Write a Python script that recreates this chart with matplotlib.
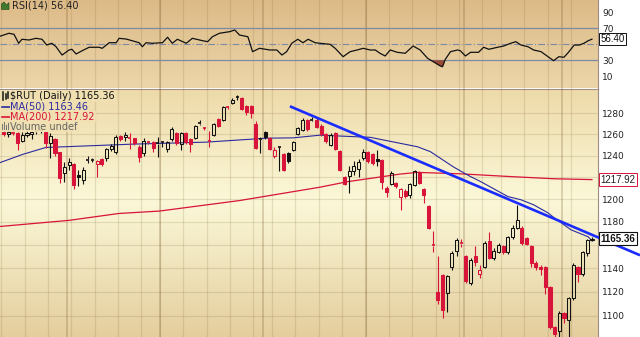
import numpy as np
import pandas as pd
import matplotlib
matplotlib.use('Agg')
import matplotlib.pyplot as plt
from matplotlib.colors import LinearSegmentedColormap
from matplotlib.patches import Rectangle, Polygon
from matplotlib.lines import Line2D
from matplotlib.ticker import NullLocator
import matplotlib.transforms as mtransforms

# ---- data ($RUT daily, 13 Apr - 9 Oct 2015) ----
holidays = ['2015-05-25', '2015-07-03', '2015-09-07']
dates = pd.bdate_range('2015-04-13', '2015-10-09')
dates = dates[~dates.isin(pd.to_datetime(holidays))]

opens = [1262, 1260, 1262, 1261, 1254, 1259, 1260, 1262, 1263, 1262,
         1252, 1255, 1243, 1224, 1231, 1232, 1222, 1218, 1236, 1235.5,
         1232, 1237, 1238, 1246, 1243, 1258, 1257, 1257, 1256, 1248,
         1242, 1253, 1253, 1251, 1253.5, 1246, 1255, 1261, 1251, 1261,
         1255, 1256, 1270, 1266, 1254, 1259, 1274, 1273, 1286, 1290,
         1295, 1294, 1287, 1287, 1270, 1255, 1262, 1256, 1239.5, 1248,
         1241, 1242, 1245, 1260, 1264, 1273, 1273, 1273, 1268, 1260,
         1250, 1261, 1244, 1220, 1221, 1226, 1228, 1238, 1243, 1241,
         1237, 1236, 1210, 1214, 1215, 1202, 1208, 1204, 1213, 1225,
         1209, 1194, 1160, 1120, 1134, 1119, 1141, 1155, 1162, 1150,
         1127, 1150, 1135, 1141, 1163, 1149, 1154, 1159, 1154, 1167,
         1175, 1175, 1166, 1159, 1144, 1141, 1141, 1124, 1091, 1088,
         1102, 1097, 1115, 1141, 1135, 1153, 1164]
highs = [1266, 1264, 1265, 1262, 1262, 1263, 1263, 1264, 1266, 1263,
         1261, 1256, 1243, 1234, 1238, 1233, 1227, 1229, 1240, 1238,
         1236, 1238, 1247, 1251, 1259, 1259, 1262, 1261, 1256, 1250,
         1256, 1254, 1254, 1257, 1254, 1254, 1267, 1262, 1262, 1262,
         1256, 1269, 1273, 1267, 1263, 1271, 1275, 1287, 1287, 1294,
         1297, 1295, 1288, 1288, 1272, 1257, 1263, 1257, 1248, 1249,
         1242, 1243, 1254, 1267, 1275, 1274, 1276, 1275, 1270, 1261,
         1261, 1262, 1245, 1221, 1230, 1235, 1237, 1246, 1244, 1242,
         1245, 1237, 1212, 1226, 1216, 1210, 1209, 1215, 1227, 1226,
         1210, 1195, 1172, 1150, 1135, 1134, 1155, 1166, 1165, 1151,
         1149, 1159, 1143, 1163, 1171, 1157, 1162, 1160, 1168, 1177,
         1195, 1176, 1167, 1160, 1146, 1143, 1142, 1125, 1092, 1104,
         1103, 1116, 1144, 1142, 1155, 1165, 1167]
lows = [1258, 1257, 1259, 1245, 1253, 1257, 1255, 1260, 1261, 1247,
        1238, 1240, 1215, 1216, 1227, 1209, 1212, 1214, 1233, 1234,
        1220, 1230, 1235, 1244, 1241, 1254, 1254, 1246, 1250, 1234,
        1240, 1251, 1243, 1239, 1248, 1243, 1254, 1250, 1245, 1251,
        1243, 1255, 1269, 1264, 1248, 1258, 1267, 1272, 1284, 1289,
        1293, 1283, 1278, 1275, 1246, 1242, 1255, 1245, 1238, 1226,
        1226, 1233, 1244, 1259, 1263, 1263, 1272, 1266, 1258, 1252,
        1249, 1245, 1226, 1213, 1206, 1222, 1220, 1236, 1233, 1231,
        1230, 1209, 1202, 1213, 1210, 1191, 1201, 1201, 1212, 1214,
        1197, 1174, 1154, 1110, 1098, 1103, 1138, 1150, 1158, 1127,
        1126, 1142, 1132, 1140, 1148, 1147, 1153, 1152, 1152, 1165,
        1174, 1160, 1160, 1141, 1138, 1134, 1118, 1089, 1080, 1083,
        1094, 1075, 1113, 1128, 1133, 1150, 1163]
closes = [1260, 1262, 1261, 1252, 1259, 1261, 1262, 1263, 1264, 1252,
          1258, 1242, 1219, 1229, 1234, 1213, 1220, 1227, 1236.5, 1236.5,
          1235, 1232, 1246, 1249, 1257, 1255, 1259, 1256, 1252, 1239,
          1254, 1252, 1247, 1252, 1252.5, 1253, 1265, 1252, 1261, 1253,
          1251, 1268, 1271, 1265.5, 1253, 1270, 1268, 1286, 1285.5, 1293,
          1295.5, 1284, 1281, 1280, 1247, 1256, 1257, 1246, 1245.5, 1248.5,
          1227, 1235, 1253, 1266, 1273, 1265, 1274, 1267, 1260, 1254,
          1259, 1246, 1227, 1214, 1226, 1230, 1234, 1243, 1235, 1233,
          1235, 1216, 1207, 1224, 1212, 1209, 1203, 1214, 1226, 1215,
          1204, 1175, 1159, 1113, 1105, 1133, 1153, 1164, 1161, 1129,
          1147, 1145, 1138, 1162, 1149, 1155, 1160, 1154, 1167, 1175,
          1182, 1162, 1161, 1144, 1141, 1139, 1124, 1091, 1085, 1102,
          1098, 1115, 1143, 1135, 1154, 1164, 1165.36]
prev_close = 1264   # close of the day before the first candle

ma50_days = [-1.1, 4, 9, 27.5, 43.4, 56.3, 62, 67.7, 78.5, 88.6, 91.4, 96.3,
             99.4, 102.2, 108, 110.8, 113.5, 116.6, 117.8, 121.5, 125.2, 126]
ma50_vals = [1233, 1241, 1247.5, 1250.6, 1252.5, 1256.2, 1256.5, 1259, 1257,
             1248.2, 1243.6, 1229.6, 1222, 1216, 1202.6, 1199.7, 1195.2, 1188,
             1184, 1173.1, 1167, 1163.46]

ma200_days = [-1.1, 14, 24.7, 33.3, 50.5, 67.7, 73.6, 85, 88.6, 97.8, 108, 117.8, 126]
ma200_vals = [1175.9, 1181.4, 1187.5, 1189.6, 1199, 1211, 1216, 1223, 1224.5,
              1223.2, 1220.8, 1218.7, 1217.92]

rsi_days = [-1.1, 1.1, 2.2, 3.2, 3.9, 5.4, 6.9, 8.2, 9.2, 10.3, 11.2, 12.5, 14.0,
            14.6, 15.5, 16.8, 18.3, 20.4, 21.1, 22.6, 24.1, 24.7, 26.2, 27.5,
            29.0, 29.7, 30.5, 31.8, 34.0, 35.1, 36.1, 37.2, 39.1, 40.4, 42.6,
            43.7, 44.7, 46.2, 48.4, 49.5, 50.5, 52.3, 53.3, 54.8, 57.0, 58.5,
            59.6, 60.6, 61.7, 63.0, 64.1, 65.2, 66.7, 67.7, 69.9, 71.0, 72.7,
            74.2, 75.7, 77.0, 78.5, 79.6, 80.6, 81.7, 82.8, 84.3, 86.0, 87.7,
            89.2, 90.8, 92.0, 93.5, 94.0, 94.6, 95.7, 97.2, 97.8, 98.9, 100.0,
            101.7, 102.8, 103.9, 105.8, 107.1, 108.6, 109.7, 110.8, 112.3,
            113.5, 115.1, 116.6, 117.8, 118.9, 120.0, 120.9, 122.2, 123.3,
            124.3, 125.2, 126]
rsi_vals = [59.5, 63.8, 62.5, 51.3, 56.3, 55.4, 57.5, 56.3, 49.1, 51.3, 47, 36.6,
            42.9, 43.8, 37.9, 42, 46.3, 46.3, 45, 52, 52, 57.5, 56.6, 54.5, 52,
            47, 52, 51.3, 52, 58.8, 51.3, 56.3, 51.3, 57.5, 54.5, 53.3, 59.5,
            63.8, 65.8, 67.9, 61.6, 59.5, 40.8, 45, 42.9, 42.9, 36.6, 40.8,
            51.3, 56.3, 52, 56.3, 52, 51.3, 50, 45, 34.5, 40.8, 42.9, 45, 42.9,
            42.9, 38.8, 35.4, 42.9, 40, 38.8, 47.9, 42.9, 32.5, 28.3, 22.9, 22,
            31.3, 40.8, 42.9, 42, 35.4, 40, 40, 46.3, 43.8, 46.3, 47.9, 51.3,
            53.3, 49.1, 47, 42.9, 40.8, 34.5, 29.5, 34.5, 33.8, 39.5, 49.1, 49.1,
            51.3, 54.5, 56.4]

trend_days = [61.3, 136.3]
trend_prices = [1286.5, 1151.0]

price_ticks = [1100, 1120, 1140, 1160, 1180, 1200, 1220, 1240, 1260, 1280]
rsi_ticks = [10, 30, 50, 70, 90]
last_close = 1165.36
last_ma50 = 1163.46
last_ma200 = 1217.92
last_rsi = 56.40

# ---- colours ----
RED = '#d8143a'
BLACK = '#111111'
NAVY = '#2b2ba0'
TREND = '#1a2cff'
GRID = (0.50, 0.38, 0.18, 0.17)
MONTH = (0.45, 0.33, 0.15, 0.30)
BOXFONT = 'Liberation Sans'

W, H = 640, 337
fig = plt.figure(figsize=(W / 100, H / 100), dpi=100, facecolor='white')

right_px = 598
split_px = 88.5
rsi_rect = [0, 1 - split_px / H, right_px / W, split_px / H]
price_rect = [0, 0, right_px / W, (H - split_px) / H]


def gradient(rect, stops):
    bg = fig.add_axes(rect, zorder=0)
    cmap = LinearSegmentedColormap.from_list('bg', stops)
    bg.imshow(np.linspace(0, 1, 256).reshape(-1, 1), cmap=cmap, aspect='auto',
              origin='lower', extent=[0, 1, 0, 1], interpolation='bilinear')
    bg.set_axis_off()


gradient(rsi_rect, [(0, '#ecd6a9'), (1, '#dcba87')])
gradient(price_rect, [(0, '#e4ce9e'), (0.55, '#fbf8d8'), (1, '#eedaa9')])

ax_rsi = fig.add_axes(rsi_rect, zorder=1)
ax = fig.add_axes(price_rect, zorder=1)
n = len(closes)
xlim = (-0.8, 127.3)

# calendar grid: week and month starts
week_starts = [0] + [i for i in range(1, n) if dates[i].weekday() < dates[i - 1].weekday()]
month_starts = [i for i in range(1, n) if dates[i].month != dates[i - 1].month]

for a in (ax_rsi, ax):
    a.set_facecolor('none')
    a.set_xlim(*xlim)
    for w in week_starts:
        a.axvline(w - 0.5, color=GRID, lw=0.9, zorder=0.5)
    for m in month_starts:
        a.axvline(m - 0.5, color=MONTH, lw=1.1, zorder=0.5)
    a.xaxis.set_major_locator(NullLocator())
    a.xaxis.set_minor_locator(NullLocator())
    for s in ('left', 'top', 'bottom'):
        a.spines[s].set_visible(False)
    a.spines['right'].set_color('#a08c80')
    a.spines['right'].set_linewidth(0.8)
    a.yaxis.tick_right()
    a.tick_params(axis='y', which='both', length=0, pad=3, labelsize=6.5, labelcolor='#222222')
ax_rsi.spines['bottom'].set_visible(True)
ax_rsi.spines['bottom'].set_color('#a08c80')
ax_rsi.spines['bottom'].set_linewidth(0.8)

# ---- RSI panel ----
ax_rsi.set_ylim(-5.25, 105.4)
ax_rsi.set_yticks(rsi_ticks)
# the 50 label sits under the last-value box
ax_rsi.set_yticklabels(['' if t == 50 else str(t) for t in rsi_ticks])
ax_rsi.axhline(70, color='#7d8aa6', lw=0.9, zorder=1)
ax_rsi.axhline(30, color='#7d8aa6', lw=0.9, zorder=1)
ax_rsi.axhline(50, color='#7d8aa6', lw=0.8, ls='-.', dashes=(6, 2, 1, 2), zorder=1)
rsi_days_a = np.array(rsi_days)
rsi_vals_a = np.array(rsi_vals)
ax_rsi.fill_between(rsi_days_a, rsi_vals_a, 30, where=rsi_vals_a < 30,
                    interpolate=True, color='#9a4a35', lw=0, zorder=1.5)
ax_rsi.plot(rsi_days_a, rsi_vals_a, color='#111111', lw=0.9, zorder=2)
ax_rsi.annotate(f'{last_rsi:.2f}', xy=(1, last_rsi),
                xycoords=mtransforms.blended_transform_factory(ax_rsi.transAxes, ax_rsi.transData),
                xytext=(1.8, 0), textcoords='offset points', ha='left', va='center',
                fontsize=7, family=BOXFONT, color='#111111', zorder=6, annotation_clip=False,
                bbox=dict(boxstyle='square,pad=0.12', fc='white', ec='#111111', lw=0.7))

# ---- price panel ----
ax.set_yscale('log')
ax.set_ylim(1082.8, 1303.7)
ax.yaxis.set_minor_locator(NullLocator())
ax.set_yticks(price_ticks)
# 1160 and 1220 sit under the last-value boxes
ax.set_yticklabels(['' if t in (1160, 1220) else str(t) for t in price_ticks])
for t in price_ticks:
    ax.axhline(t, color=GRID, lw=0.9, zorder=0.5)

ax.plot(ma200_days, ma200_vals, color=RED, lw=0.9, zorder=1.2)
ax.plot(ma50_days, ma50_vals, color=NAVY, lw=0.8, zorder=1.2)

prevs = [prev_close] + closes[:-1]
body_w = 0.68
for i in range(n):
    o, h, l, c = opens[i], highs[i], lows[i], closes[i]
    col = BLACK if c >= prevs[i] else RED
    lo_b, hi_b = min(o, c), max(o, c)
    ax.vlines(i, hi_b, h, color=col, lw=0.8, zorder=2)
    ax.vlines(i, l, lo_b, color=col, lw=0.8, zorder=2)
    if hi_b - lo_b < 1.2:
        ax.hlines((o + c) / 2, i - body_w / 2, i + body_w / 2, color=col, lw=1.2, zorder=2.1)
    else:
        ax.add_patch(Rectangle((i - body_w / 2, lo_b), body_w, hi_b - lo_b,
                               facecolor=col if c < o else 'none', edgecolor=col,
                               lw=0.75, zorder=2.1))

ax.plot(trend_days, trend_prices, color=TREND, lw=1.9, zorder=3,
        clip_on=False, solid_capstyle='butt')

blend = mtransforms.blended_transform_factory(ax.transAxes, ax.transData)
ax.annotate(f'{last_ma200:.2f}', xy=(1, last_ma200), xycoords=blend,
            xytext=(1.8, 0), textcoords='offset points', ha='left', va='center',
            fontsize=7, family=BOXFONT, color='#222222', zorder=6, annotation_clip=False,
            bbox=dict(boxstyle='square,pad=0.12', fc='white', ec=RED, lw=0.7))
ax.annotate(f'{last_close:.2f}', xy=(1, last_close), xycoords=blend,
            xytext=(1.8, 0), textcoords='offset points', ha='left', va='center',
            fontsize=7, family=BOXFONT, fontweight='bold', color='#111111', zorder=6,
            annotation_clip=False,
            bbox=dict(boxstyle='square,pad=0.12', fc='white', ec='#111111', lw=0.8))


# ---- panel titles / legend ----
def fx(px):
    return px / W


def fy(py):
    return 1 - py / H


fig.text(fx(12), fy(5.5), f'RSI(14) {last_rsi:.2f}', fontsize=7, color='#222222',
         va='center', ha='left', zorder=10)
fig.add_artist(Polygon([(fx(1.5), fy(9.5)), (fx(1.5), fy(4)), (fx(4), fy(2)),
                        (fx(6.5), fy(5)), (fx(9), fy(2.5)), (fx(9), fy(9.5))],
                       closed=True, fc='#3f7a2e', ec='#1f3f17', lw=0.4,
                       transform=fig.transFigure, zorder=10))

legend_bg = (0.941, 0.878, 0.698, 0.92)
rows = [
    ('$RUT (Daily) ' + f'{last_close:.2f}', 96, '#111111'),
    (f'MA(50) {last_ma50:.2f}', 106.5, NAVY),
    (f'MA(200) {last_ma200:.2f}', 116.5, RED),
    ('Volume undef', 126.5, '#666666'),
]
for label, py, col in rows:
    fig.text(fx(10.5), fy(py), label, fontsize=7, color=col, va='center', ha='left',
             zorder=10, bbox=dict(boxstyle='square,pad=0.08', fc=legend_bg, ec='none'))
fig.add_artist(Rectangle((0, fy(131.5)), fx(10.5), (131.5 - 90) / H, fc=legend_bg,
                         ec='none', transform=fig.transFigure, zorder=9))
# tiny legend glyphs
fig.add_artist(Line2D([fx(2), fx(9.5)], [fy(106.5)] * 2, color=NAVY, lw=1.2,
                      transform=fig.transFigure, zorder=10))
fig.add_artist(Line2D([fx(2), fx(9.5)], [fy(116.5)] * 2, color=RED, lw=1.2,
                      transform=fig.transFigure, zorder=10))
for k, (top, bot) in enumerate([(92, 100), (93.5, 99), (91.5, 98.5)]):
    fig.add_artist(Line2D([fx(3 + 2.5 * k)] * 2, [fy(top), fy(bot)], color='#111111',
                          lw=1.1, transform=fig.transFigure, zorder=10))
for k, top in enumerate([124, 122, 125, 123]):
    fig.add_artist(Rectangle((fx(1.5 + 2 * k), fy(130)), fx(1.3), (130 - top) / H,
                             fc='#777777', ec='none', transform=fig.transFigure, zorder=10))

fig.savefig('out.png', dpi=100, facecolor='white')
